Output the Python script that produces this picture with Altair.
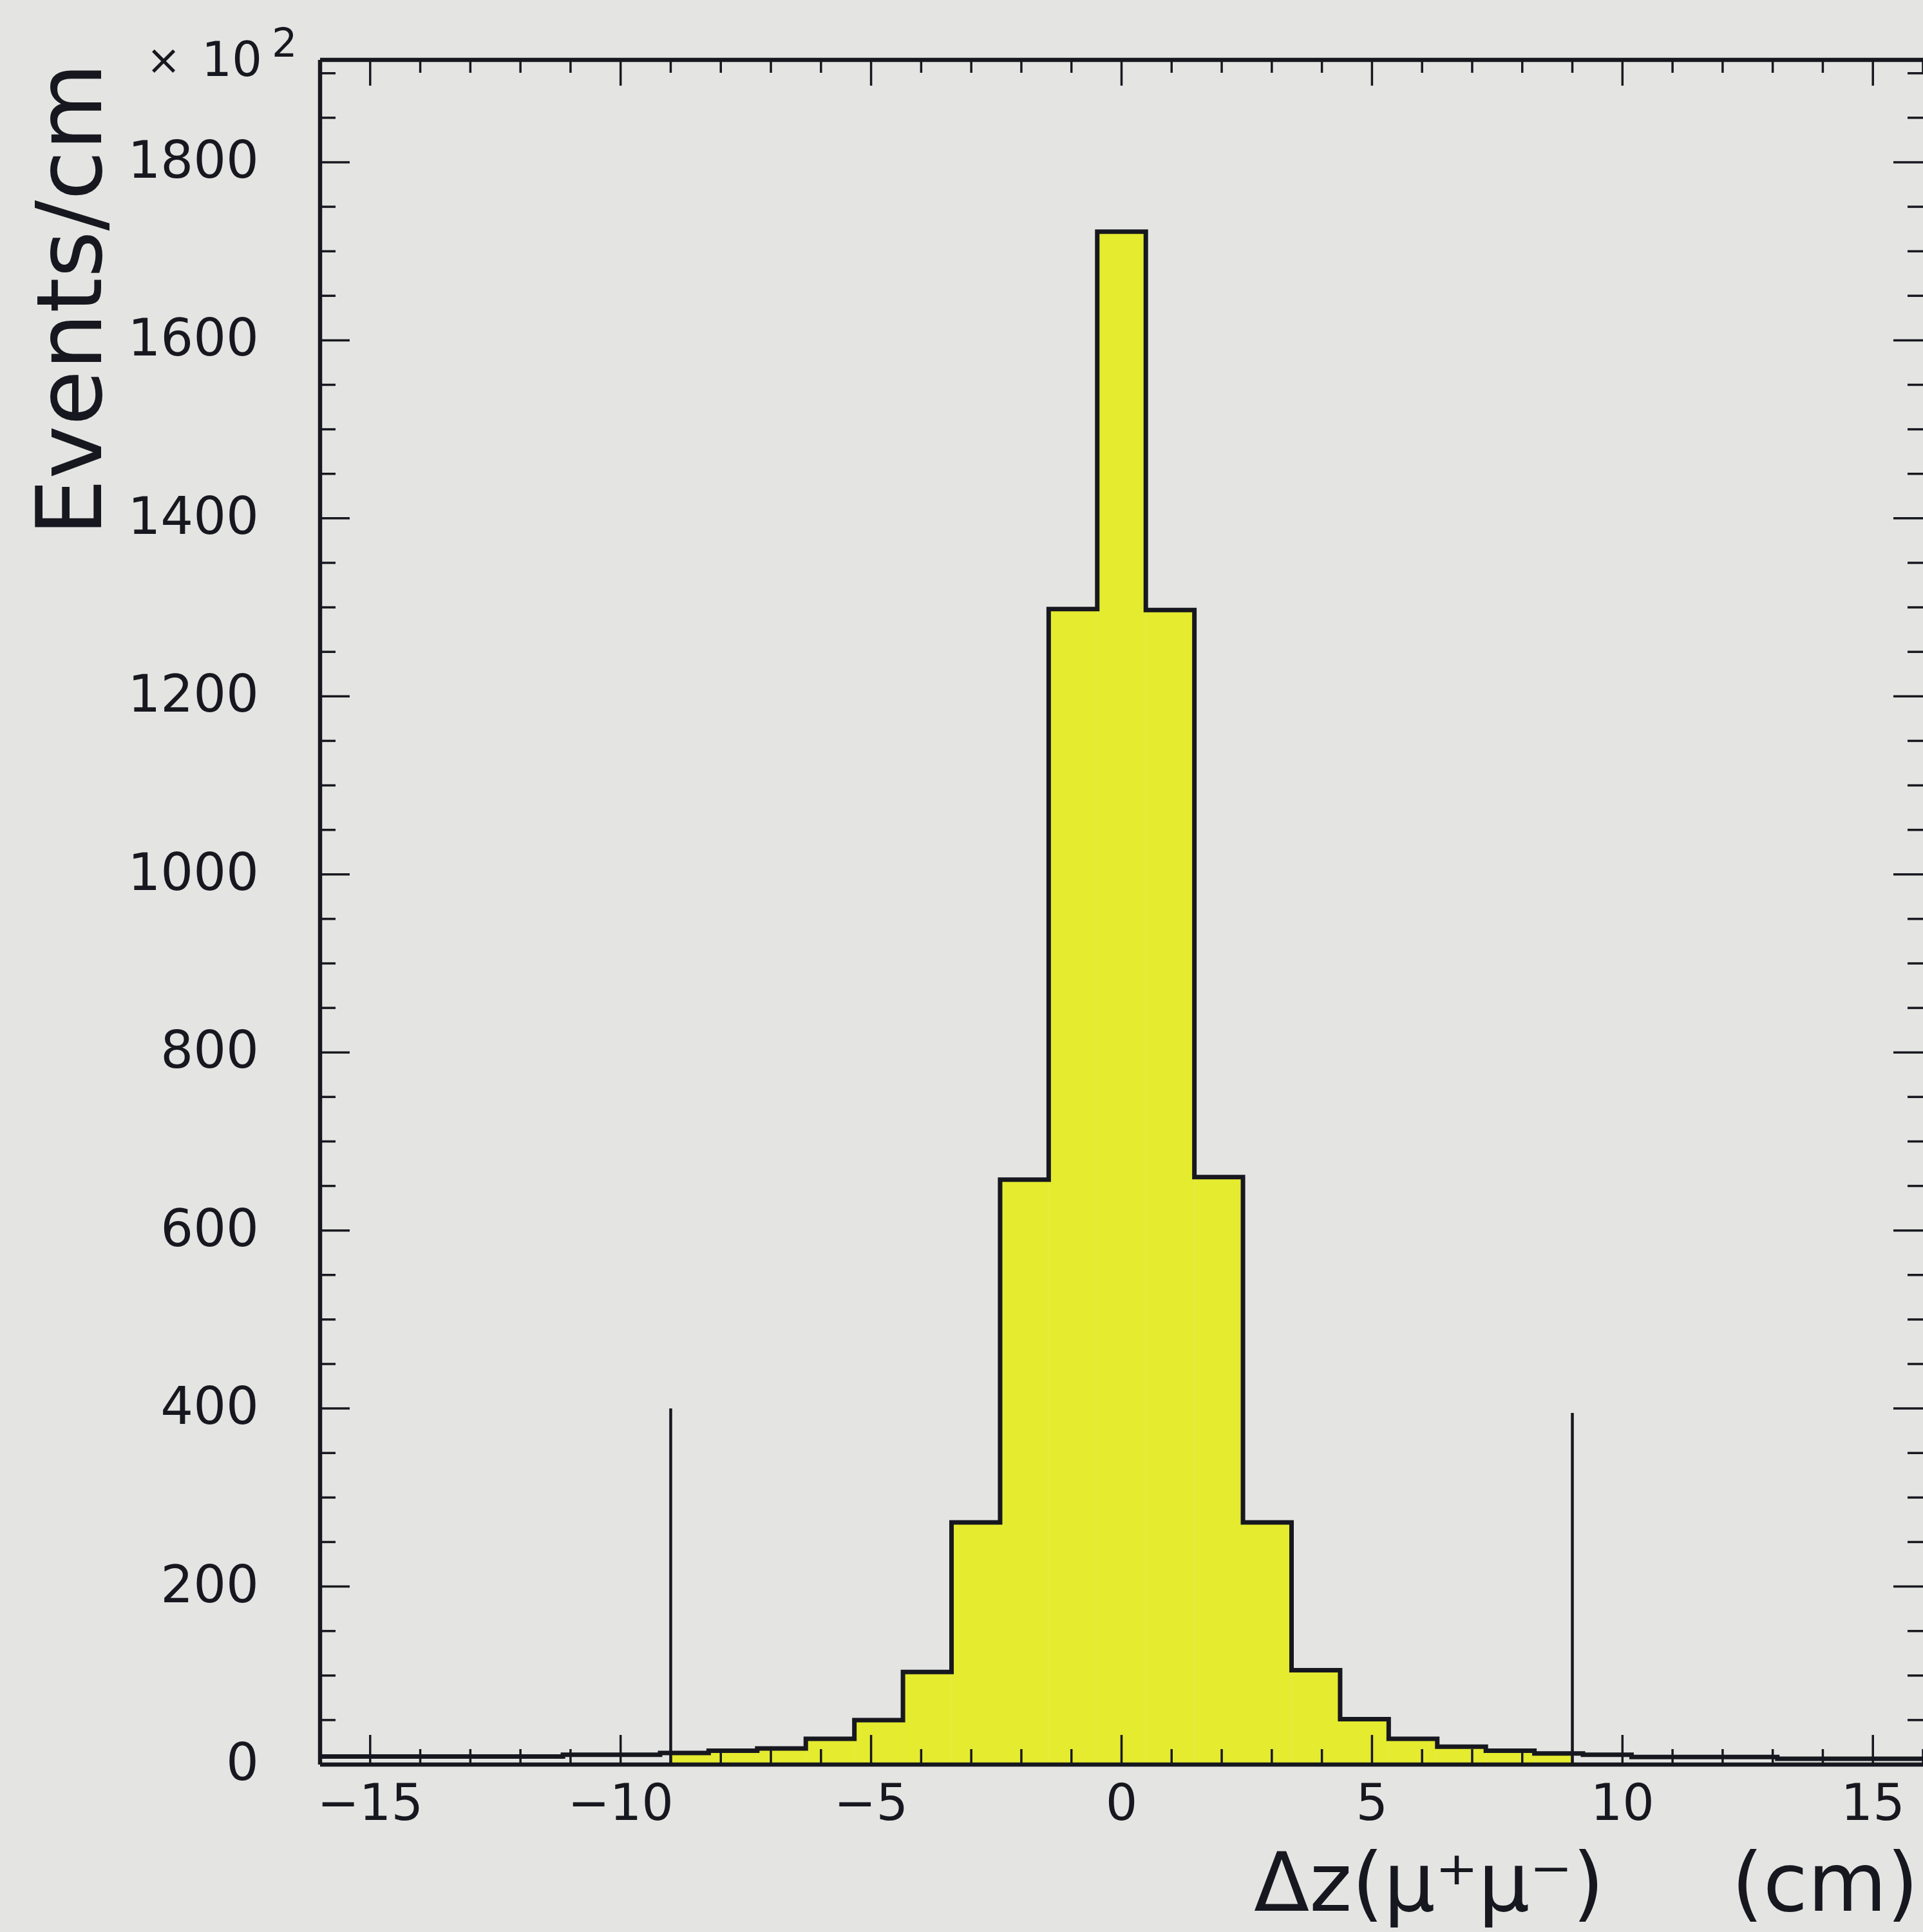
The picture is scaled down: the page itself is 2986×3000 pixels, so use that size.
import altair as alt
import numpy as np
import pandas as pd

# ---- data ----
x_min, x_max, n_bins = -16.0, 16.0, 33
counts = [9, 9, 9, 9, 9, 11, 11, 13, 15.5, 18, 29, 50, 104, 272, 657, 1298,
          1722, 1297, 660, 272, 106, 51, 29, 20, 15.5, 12.5, 11, 8.5, 8.5,
          8.5, 6.5, 6.5, 6.5]
cut_x = [-9, 9]
cut_h = [400, 395]
y_max = 1915
x_major = [-15, -10, -5, 0, 5, 10, 15]
x_minor = [v for v in range(-16, 17) if v not in x_major]
y_major = [0, 200, 400, 600, 800, 1000, 1200, 1400, 1600, 1800]
y_minor = [v for v in range(0, 1901, 50) if v not in y_major]
y_title = "Events/cm"
x_title_main = "Δz(μ⁺μ⁻)"
x_title_unit = "(cm)"
scale_mult = "×"
scale_base = "10"
scale_exp = "2"

# ---- styling ----
W, H = 2489, 2647
FONT = "DejaVu Sans"
INK = "#17181f"
YELLOW = "#e5eb2f"
BG = "#e4e4e2"

edges = np.linspace(x_min, x_max, n_bins + 1)
hist = pd.DataFrame({"lo": edges[:-1], "hi": edges[1:], "n": counts, "z": 0})
fill = hist.copy()
fill["lo"] = fill["lo"].clip(lower=cut_x[0])
fill["hi"] = fill["hi"].clip(upper=cut_x[1])
fill = fill[fill["lo"] < fill["hi"]]
step = pd.DataFrame({"x": list(edges), "n": counts + [counts[-1]]})
cuts = pd.DataFrame({"x": cut_x, "h": cut_h, "z": 0})

xs = alt.Scale(domain=[x_min, x_max], nice=False, zero=False)
ys = alt.Scale(domain=[0, y_max], nice=False, zero=False)


def X(f):
    return alt.X(f, scale=xs, axis=None)


def Y(f):
    return alt.Y(f, scale=ys, axis=None)


bars = alt.Chart(fill).mark_rect(color=YELLOW).encode(
    x=X("lo:Q"), x2="hi:Q", y=Y("n:Q"), y2="z:Q")

outline = alt.Chart(step).mark_line(
    interpolate="step-after", color=INK, strokeWidth=7).encode(
    x=X("x:Q"), y=Y("n:Q"))

cut_rules = alt.Chart(cuts).mark_rule(color=INK, strokeWidth=4.5).encode(
    x=X("x:Q"), y=Y("h:Q"), y2="z:Q")

xmaj = pd.DataFrame({"v": x_major})
xmin_df = pd.DataFrame({"v": x_minor})
ymaj = pd.DataFrame({"v": y_major})
ymin_df = pd.DataFrame({"v": y_minor})

TK = dict(color=INK, strokeWidth=3.5)
MAJ, MIN = 46, 24

tick_layers = [
    alt.Chart(xmaj).mark_rule(**TK).encode(x=X("v:Q"), y=alt.value(H), y2=alt.value(H - MAJ)),
    alt.Chart(xmin_df).mark_rule(**TK).encode(x=X("v:Q"), y=alt.value(H), y2=alt.value(H - MIN)),
    alt.Chart(xmaj).mark_rule(**TK).encode(x=X("v:Q"), y=alt.value(0), y2=alt.value(MAJ - 6)),
    alt.Chart(xmin_df).mark_rule(**TK).encode(x=X("v:Q"), y=alt.value(0), y2=alt.value(MIN - 4)),
    alt.Chart(ymaj).mark_rule(**TK).encode(y=Y("v:Q"), x=alt.value(0), x2=alt.value(MAJ)),
    alt.Chart(ymin_df).mark_rule(**TK).encode(y=Y("v:Q"), x=alt.value(0), x2=alt.value(MIN)),
    alt.Chart(ymaj).mark_rule(**TK).encode(y=Y("v:Q"), x=alt.value(W), x2=alt.value(W - MAJ)),
    alt.Chart(ymin_df).mark_rule(**TK).encode(y=Y("v:Q"), x=alt.value(W), x2=alt.value(W - MIN)),
]

one = pd.DataFrame({"a": [0]})
FR = dict(color=INK, strokeWidth=6.5)
frame = [
    alt.Chart(one).mark_rule(**FR).encode(x=alt.value(0), x2=alt.value(W), y=alt.value(0)),
    alt.Chart(one).mark_rule(**FR).encode(x=alt.value(0), y=alt.value(0), y2=alt.value(H)),
    alt.Chart(one).mark_rule(**FR).encode(x=alt.value(0), x2=alt.value(W), y=alt.value(H)),
]

xlab = pd.DataFrame({"v": x_major,
                     "t": [("−" + str(abs(v))) if v < 0 else str(v) for v in x_major]})
ylab = pd.DataFrame({"v": y_major, "t": [str(v) for v in y_major]})

x_labels = alt.Chart(xlab).mark_text(
    font=FONT, fontSize=78, color=INK, align="center", baseline="alphabetic").encode(
    x=X("v:Q"), y=alt.value(H + 86), text="t:N")
y_labels = alt.Chart(ylab).mark_text(
    font=FONT, fontSize=80, color=INK, align="right", baseline="middle").encode(
    y=Y("v:Q"), x=alt.value(-95), text="t:N")


def txt(s, x, y, size, align="left", baseline="alphabetic", angle=0):
    kw = dict(font=FONT, fontSize=size, color=INK, align=align, baseline=baseline)
    if angle:
        kw["angle"] = angle
    return alt.Chart(pd.DataFrame({"t": [s]})).mark_text(**kw).encode(
        x=alt.value(x), y=alt.value(y), text="t:N")


titles = [
    txt(y_title, -340, 372, 140, align="center", angle=270),
    txt(x_title_main, 1450, 2874, 126),
    txt(x_title_unit, 2482, 2874, 126, align="right"),
    txt(scale_mult, -243, 22, 64, align="center"),
    txt(scale_base, -184, 25, 74),
    txt(scale_exp, -75, -5, 62),
]

chart = alt.layer(
    bars, cut_rules, outline, *tick_layers, *frame, x_labels, y_labels, *titles
).properties(
    width=W, height=H,
    autosize=alt.AutoSizeParams(type="none"),
    padding={"left": 497, "top": 93, "right": 0, "bottom": 260},
    background=BG,
).configure_view(stroke=None)

chart.save("out.html", embed_options={"renderer": "svg", "actions": False})
